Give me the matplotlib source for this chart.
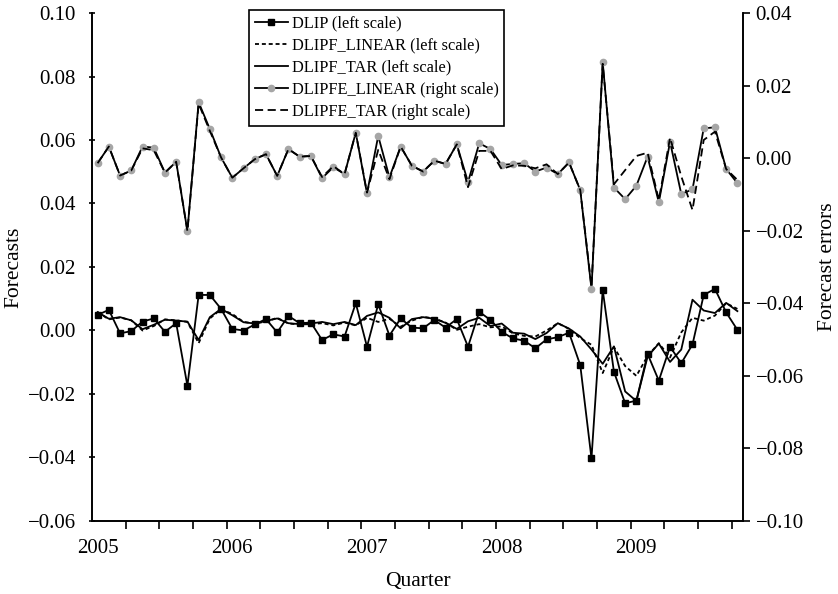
import matplotlib
matplotlib.use("Agg")
import matplotlib.pyplot as plt
import numpy as np

plt.rcParams['font.family'] = ['Liberation Serif', 'DejaVu Serif']

years = ["2005", "2006", "2007", "2008", "2009"]

dlip = [0.0049, 0.0065, -0.0009, -0.0002, 0.0028, 0.0038, -0.0004, 0.0023, -0.0174, 0.0112,
        0.0112, 0.0068, 0.0005, 0.0000, 0.0019, 0.0036, -0.0006, 0.0046, 0.0023, 0.0025,
        -0.0030, -0.0012, -0.0019, 0.0086, -0.0051, 0.0083, -0.0016, 0.0038, 0.0009, 0.0007,
        0.0033, 0.0009, 0.0036, -0.0051, 0.0059, 0.0033, -0.0004, -0.0025, -0.0032, -0.0056,
        -0.0028, -0.0021, -0.0007, -0.0109, -0.0403, 0.0128, -0.0130, -0.0229, -0.0221, -0.0074,
        -0.0158, -0.0051, -0.0103, -0.0044, 0.0112, 0.0131, 0.0057, 0.0002]

dlipf_linear = [0.0058, 0.0035, 0.0041, 0.0032, 0.0000, 0.0014, 0.0035, 0.0032, 0.0027, -0.0040,
                0.0038, 0.0067, 0.0052, 0.0027, 0.0022, 0.0028, 0.0040, 0.0022, 0.0019, 0.0020,
                0.0023, 0.0016, 0.0025, 0.0016, 0.0040, 0.0027, 0.0037, 0.0012, 0.0031, 0.0043,
                0.0038, 0.0025, 0.0002, 0.0012, 0.0020, 0.0010, 0.0013, -0.0009, -0.0017, -0.0019,
                0.0000, 0.0023, 0.0005, -0.0024, -0.0045, -0.0134, -0.0052, -0.0112, -0.0143, -0.0080,
                -0.0040, -0.0085, -0.0006, 0.0040, 0.0031, 0.0047, 0.0086, 0.0068]

dlipf_tar = [0.0058, 0.0037, 0.0042, 0.0032, 0.0004, 0.0018, 0.0034, 0.0031, 0.0028, -0.0030,
             0.0042, 0.0068, 0.0048, 0.0026, 0.0022, 0.0030, 0.0038, 0.0023, 0.0020, 0.0022,
             0.0027, 0.0020, 0.0027, 0.0017, 0.0046, 0.0057, 0.0040, 0.0007, 0.0036, 0.0042,
             0.0037, 0.0024, 0.0005, 0.0029, 0.0040, 0.0014, 0.0022, -0.0007, -0.0010, -0.0027,
             -0.0008, 0.0023, 0.0006, -0.0019, -0.0060, -0.0105, -0.0050, -0.0192, -0.0222, -0.0082,
             -0.0041, -0.0099, -0.0060, 0.0097, 0.0063, 0.0055, 0.0087, 0.0061]

dlipfe_linear = [-0.0014, 0.0032, -0.0048, -0.0034, 0.0032, 0.0029, -0.0040, -0.0010, -0.0201, 0.0154,
                 0.0080, 0.0002, -0.0054, -0.0028, -0.0003, 0.0011, -0.0049, 0.0025, 0.0004, 0.0006,
                 -0.0055, -0.0025, -0.0044, 0.0070, -0.0097, 0.0061, -0.0053, 0.0032, -0.0021, -0.0037,
                 -0.0007, -0.0016, 0.0038, -0.0066, 0.0041, 0.0025, -0.0019, -0.0016, -0.0014, -0.0037,
                 -0.0026, -0.0044, -0.0012, -0.0088, -0.0360, 0.0264, -0.0081, -0.0113, -0.0076, 0.0004,
                 -0.0122, 0.0045, -0.0099, -0.0086, 0.0082, 0.0085, -0.0030, -0.0069]

dlipfe_tar = [-0.0014, 0.0032, -0.0048, -0.0034, 0.0027, 0.0022, -0.0040, -0.0010, -0.0201, 0.0150,
              0.0075, 0.0002, -0.0054, -0.0028, -0.0003, 0.0011, -0.0049, 0.0025, 0.0004, 0.0006,
              -0.0052, -0.0022, -0.0044, 0.0070, -0.0095, 0.0023, -0.0058, 0.0032, -0.0021, -0.0037,
              -0.0007, -0.0016, 0.0038, -0.0080, 0.0020, 0.0020, -0.0030, -0.0020, -0.0021, -0.0028,
              -0.0017, -0.0044, -0.0012, -0.0088, -0.0355, 0.0260, -0.0072, -0.0033, 0.0006, 0.0015,
              -0.0115, 0.0056, -0.0050, -0.0143, 0.0050, 0.0073, -0.0030, -0.0060]

n = len(dlip)
x = np.arange(n)

W, H = 838, 594
fig = plt.figure(figsize=(W / 100, H / 100), dpi=100)
L, R, T, B = 92, 743, 13, 521
ax = fig.add_axes([L / W, 1 - B / H, (R - L) / W, (B - T) / H])
ax2 = ax.twinx()

lw = 1.3
h1, = ax.plot(x, dlip, color='black', lw=lw, marker='s', ms=4.8, label='DLIP (left scale)')
h2, = ax.plot(x, dlipf_linear, color='black', lw=lw, linestyle=(0, (2.2, 1.6)), label='DLIPF_LINEAR (left scale)')
h3, = ax.plot(x, dlipf_tar, color='black', lw=lw, label='DLIPF_TAR (left scale)')
h4, = ax2.plot(x, dlipfe_linear, color='black', lw=lw, marker='o', ms=4.5,
               markerfacecolor='#a6a6a6', markeredgecolor='#a6a6a6', label='DLIPFE_LINEAR (right scale)')
h5, = ax2.plot(x, dlipfe_tar, color='black', lw=lw, linestyle=(0, (4.5, 2.5)), label='DLIPFE_TAR (right scale)')

ax.set_xlim(-0.5, n - 0.5)
ax.set_ylim(-0.06, 0.10)
ax2.set_ylim(-0.10, 0.04)

fmt = matplotlib.ticker.FuncFormatter(
    lambda v, p: f"{v:.2f}".replace('-', '\u2212') if abs(v) > 1e-9 else "0.00")
ax.set_yticks(np.arange(-0.06, 0.1001, 0.02))
ax2.set_yticks(np.arange(-0.10, 0.0401, 0.02))
ax.yaxis.set_major_formatter(fmt)
ax2.yaxis.set_major_formatter(fmt)

ax.set_xticks(np.arange(0, n, 12))
ax.set_xticklabels(years)
ax.set_xticks(np.arange(2.5, n - 0.5, 3), minor=True)
ax.tick_params(axis='x', which='major', length=0, pad=13, labelsize=15)
ax.tick_params(axis='x', which='minor', length=6, width=1.2, direction='out')
ax.tick_params(axis='y', length=5, width=1.2, direction='inout', labelsize=15, pad=9)
ax2.tick_params(axis='y', length=5, width=1.2, direction='out', labelsize=15, pad=4)

for a in (ax, ax2):
    a.spines['top'].set_visible(False)
    for s in ('left', 'right', 'bottom'):
        a.spines[s].set_linewidth(1.2)

ax.set_xlabel('Quarter', fontsize=15.5, labelpad=10)
ax.set_ylabel('Forecasts', fontsize=15.5, labelpad=3)
ax2.set_ylabel('Forecast errors', fontsize=15.5, rotation=90, labelpad=10)

leg = ax2.legend(handles=[h1, h2, h3, h4, h5], loc='upper left',
                 bbox_to_anchor=((249 - L) / (R - L), (B - 10) / (B - T)),
                 frameon=True, fancybox=False, framealpha=1, edgecolor='black',
                 fontsize=11.8, handlelength=2.0, handletextpad=0.25,
                 borderpad=0.35, labelspacing=0.37, borderaxespad=0)
leg.get_frame().set_linewidth(1.2)

fig.savefig('out.png', dpi=100)
